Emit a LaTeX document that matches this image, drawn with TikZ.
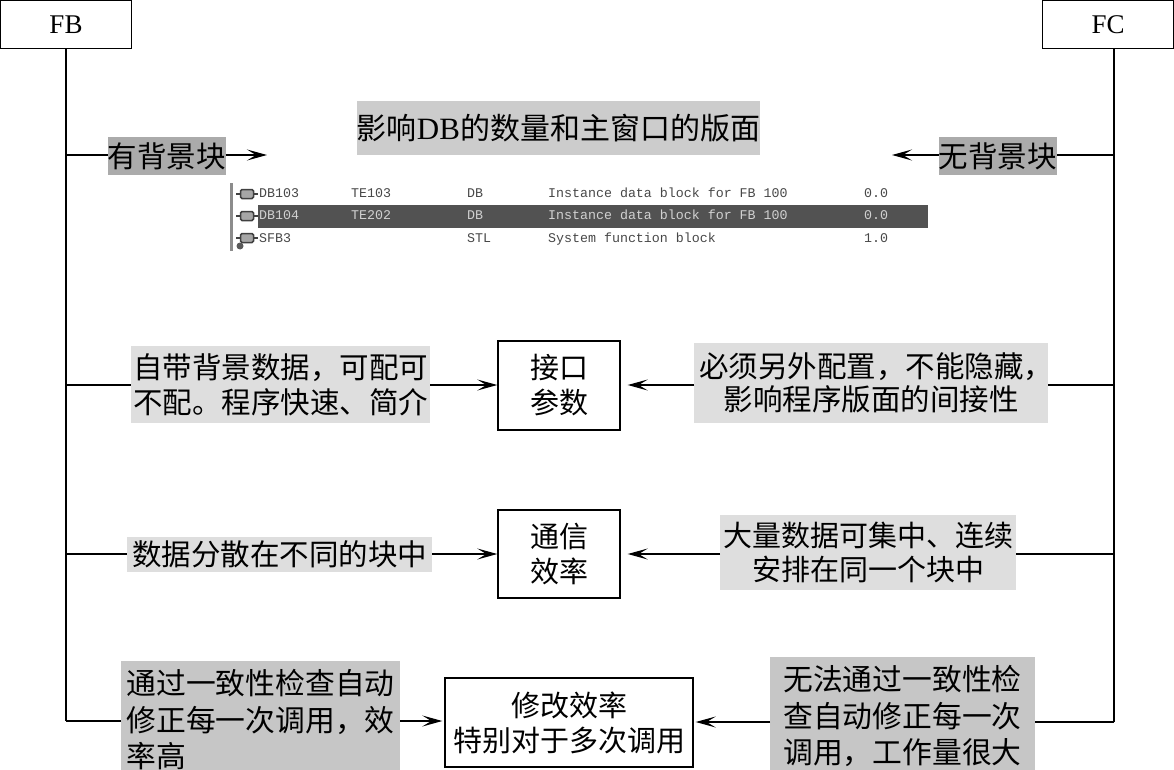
\documentclass[tikz,border=0pt]{standalone}
\usepackage{fontspec}
\setmainfont{Liberation Serif}
\setmonofont{Liberation Mono}
\newfontfamily\cjk{Noto Sans CJK SC}
\usetikzlibrary{arrows.meta}
\definecolor{gA}{HTML}{ABABAB}
\definecolor{gB}{HTML}{CCCCCC}
\definecolor{gC}{HTML}{DEDEDE}
\definecolor{gD}{HTML}{C6C6C6}
\tikzset{
  line/.style={line width=1.5pt,black},
  arr/.style={line width=1.4pt,black,-{Stealth[length=20pt,width=11pt,inset=9pt]}},
  labelbox/.style={inner sep=0pt,outer sep=0pt,align=center,font=\fontsize{29.5}{35}\selectfont\cjk},
  framebox/.style={draw=black,line width=1.4pt,fill=white,inner sep=0pt,align=center,font=\fontsize{29}{35}\selectfont\cjk},
  headbox/.style={draw=black,line width=1.4pt,fill=white,inner sep=0pt,font=\fontsize{27}{30}\selectfont},
  cell/.style={anchor=west,inner sep=0pt,text height=9pt,text depth=3pt,font=\fontsize{13.3}{14}\selectfont\ttfamily,text=black!72},
  cellsel/.style={cell,text=black!18},
  icon/.style={draw=black!75,line width=1.5pt,fill=black!35,rounded corners=1.5pt,minimum width=13pt,minimum height=9pt,inner sep=0pt},
  stub/.style={draw=black!75,line width=1.5pt}
}
\begin{document}
\begin{tikzpicture}[x=1pt,y=-1pt]
\useasboundingbox (0,0) rectangle (1174,770);
% heads
\node[headbox,minimum width=131pt,minimum height=48pt] (fb) at (66,24.5) {FB};
\node[headbox,minimum width=131pt,minimum height=48pt] (fc) at (1108,24.5) {FC};
\coordinate (ft) at (66,49);
\coordinate (ct) at (1114,49);
% row anchors
\coordinate (l1) at (66,155);
\coordinate (l2) at (66,385);
\coordinate (l3) at (66,554);
\coordinate (l4) at (66,721);
\coordinate (r1) at (1114,155);
\coordinate (r2) at (1114,385);
\coordinate (r3) at (1114,554);
\coordinate (r4) at (1114,722);
\coordinate (e1) at (267,155);
\coordinate (e2) at (892,155);
% trunks
\draw[line] (ft) -- (l4);
\draw[line] (ct) -- (r4);
% title
\node[labelbox,fill=gB,minimum width=401pt,minimum height=54pt,font=\fontsize{30}{35}\selectfont\cjk] (title) at (558.5,128) {影响{\fontsize{31}{35}\selectfont\rmfamily DB}的数量和主窗口的版面};
% row 1
\node[labelbox,fill=gA,minimum width=117pt,minimum height=38pt] (a1) at (166.5,156) {有背景块};
\node[labelbox,fill=gA,minimum width=117pt,minimum height=38pt] (b1) at (997.5,156) {无背景块};
\draw[line] (l1) -- (a1.west |- l1);
\draw[arr] (a1.east |- l1) -- (e1);
\draw[line] (r1) -- (b1.east |- r1);
\draw[arr] (b1.west |- r1) -- (e2);
% screenshot table
\fill[black!45] (230,183) rectangle (233,251);
\fill[black!68] (258,205) rectangle (928,228);
\node[icon] (i1) at (247,194) {};
\node[icon] (i2) at (247,216) {};
\node[icon] (i3) at (247,238) {};
\foreach \n in {i1,i2,i3} {
  \draw[stub] (\n.west) -- ++(-3.5,0);
  \draw[stub] (\n.east) -- ++(3.5,0);
}
\node[cell] (t11) at (259,194) {DB103};
\node[cell] (t12) at (351,194) {TE103};
\node[cell] (t13) at (467,194) {DB};
\node[cell] (t14) at (548,194) {Instance data block for FB 100};
\node[cell] (t15) at (864,194) {0.0};
\node[cellsel] (t21) at (259,216) {DB104};
\node[cellsel] (t22) at (351,216) {TE202};
\node[cellsel] (t23) at (467,216) {DB};
\node[cellsel] (t24) at (548,216) {Instance data block for FB 100};
\node[cellsel] (t25) at (864,216) {0.0};
\node[cell] (t31) at (259,239) {SFB3};
\node[cell] (t33) at (467,239) {STL};
\node[cell] (t34) at (548,239) {System function block};
\node[cell] (t35) at (864,239) {1.0};
\fill[black!65] (240,246) circle (3.5pt);
% row 2
\node[framebox,minimum width=122pt,minimum height=89pt] (c2) at (559,385.5) {接口\\参数};
\node[labelbox,fill=gC,minimum width=299pt,minimum height=77pt] (a2) at (280.5,384.5) {自带背景数据，可配可\\不配。程序快速、简介};
\node[labelbox,fill=gC,minimum width=354pt,minimum height=80pt,font=\fontsize{29.5}{33.5}\selectfont\cjk] (b2) at (871,383) {必须另外配置，不能隐藏，\hspace*{-10pt}\\影响程序版面的间接性};
\draw[line] (l2) -- (a2.west |- l2);
\draw[arr] (a2.east |- l2) -- (c2.west |- l2);
\draw[line] (r2) -- (b2.east |- r2);
\draw[arr,shorten >=7pt] (b2.west |- r2) -- (c2.east |- r2);
% row 3
\node[framebox,minimum width=122pt,minimum height=88pt] (c3) at (559,554) {通信\\效率};
\node[labelbox,fill=gC,minimum width=305pt,minimum height=35pt] (a3) at (279.5,554.5) {数据分散在不同的块中};
\node[labelbox,fill=gC,minimum width=296pt,minimum height=75pt,font=\fontsize{29}{34.5}\selectfont\cjk] (b3) at (868,552.5) {大量数据可集中、连续\\安排在同一个块中};
\draw[line] (l3) -- (a3.west |- l3);
\draw[arr] (a3.east |- l3) -- (c3.west |- l3);
\draw[line] (r3) -- (b3.east |- r3);
\draw[arr,shorten >=7pt] (b3.west |- r3) -- (c3.east |- r3);
% row 4
\node[framebox,minimum width=248pt,minimum height=89pt] (c4) at (569,722.5) {修改效率\\特别对于多次调用};
\node[labelbox,fill=gD,minimum width=279pt,minimum height=109pt,align=left,font=\fontsize{29.8}{36.5}\selectfont\cjk] (a4) at (260.5,715.5) {\rule{0pt}{34pt}通过一致性检查自动\hspace*{-4pt}\\修正每一次调用，效\hspace*{-4pt}\\率高};
\node[labelbox,fill=gD,minimum width=265pt,minimum height=113pt,align=left,font=\fontsize{29.8}{36.5}\selectfont\cjk] (b4) at (902.5,713.5) {\rule{0pt}{31pt}无法通过一致性检\\查自动修正每一次\\调用，工作量很大};
\draw[line] (l4) -- (a4.west |- l4);
\draw[arr,shorten >=2pt] (a4.east |- l4) -- (c4.west |- l4);
\draw[line] (r4) -- (b4.east |- r4);
\draw[arr,shorten >=2pt] (b4.west |- r4) -- (c4.east |- r4);
\end{tikzpicture}
\end{document}
